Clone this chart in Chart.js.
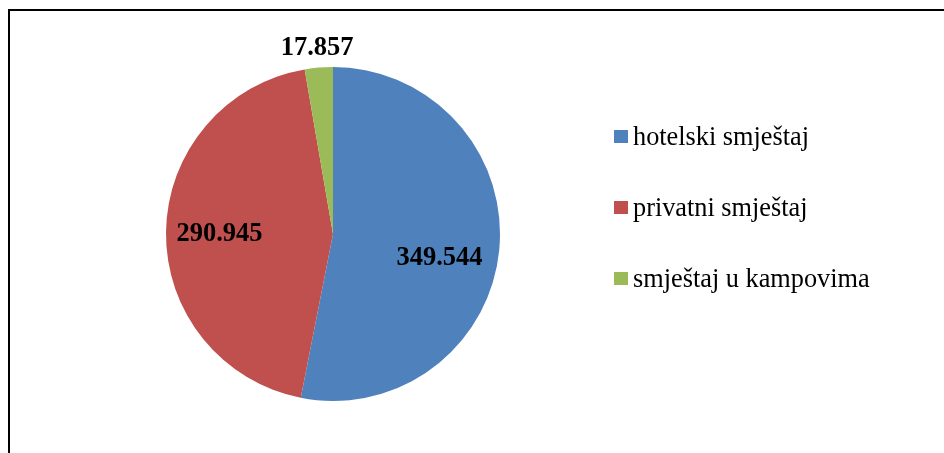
<!DOCTYPE html>
<html>
<head>
<meta charset="utf-8">
<script src="https://cdn.jsdelivr.net/npm/chart.js@4/dist/chart.umd.min.js"></script>
<style>
  html, body { margin: 0; padding: 0; background: #fff; overflow: hidden; width: 944px; height: 453px; }
  #frame { position: absolute; left: 8px; top: 9px; width: 1200px; height: 1000px; border-top: 2px solid #000; border-left: 2px solid #000; }
  #c { position: absolute; left: 0; top: 0; }
</style>
</head>
<body>
<div id="frame"></div>
<canvas id="c" width="944" height="453"></canvas>
<script>
const categories = ['hotelski smještaj', 'privatni smještaj', 'smještaj u kampovima'];
const values = [349544, 290945, 17857];
const colors = ['#4F81BD', '#C0504D', '#9BBB59'];

function fmt(v) {
  return String(v).replace(/\B(?=(\d{3})+(?!\d))/g, '.');
}

const SERIF = "'Times New Roman', 'Liberation Serif', serif";

const labelPlugin = {
  id: 'sliceLabels',
  afterDatasetsDraw(chart, args, opts) {
    const ctx = chart.ctx;
    const meta = chart.getDatasetMeta(0);
    ctx.save();
    ctx.font = 'bold 26.5px ' + SERIF;
    ctx.fillStyle = '#000';
    ctx.textAlign = 'center';
    ctx.textBaseline = 'middle';
    meta.data.forEach((arc, i) => {
      const p = arc.getProps(['x', 'y', 'startAngle', 'endAngle', 'outerRadius'], true);
      const mid = (p.startAngle + p.endAngle) / 2 + opts.angleShift[i] * Math.PI / 180;
      const r = p.outerRadius * opts.radius[i];
      ctx.fillText(fmt(chart.data.datasets[0].data[i]), p.x + Math.cos(mid) * r, p.y + Math.sin(mid) * r);
    });
    ctx.restore();
  }
};

const legendPlugin = {
  id: 'sideLegend',
  afterDraw(chart, args, opts) {
    const ctx = chart.ctx;
    const ds = chart.data.datasets[0];
    ctx.save();
    ctx.font = opts.fontSize + 'px ' + SERIF;
    ctx.textBaseline = 'alphabetic';
    ctx.textAlign = 'left';
    chart.data.labels.forEach((lab, i) => {
      const base = opts.y + i * opts.step;
      ctx.fillStyle = ds.backgroundColor[i];
      ctx.fillRect(opts.x, base - 15, 14, 13);
      ctx.fillStyle = '#000';
      ctx.fillText(lab, opts.x + 19, base);
    });
    ctx.restore();
  }
};

new Chart(document.getElementById('c'), {
  type: 'pie',
  data: {
    labels: categories,
    datasets: [{
      data: values,
      backgroundColor: colors,
      borderWidth: 0,
      hoverOffset: 0
    }]
  },
  options: {
    responsive: false,
    animation: false,
    devicePixelRatio: 1,
    layout: { padding: { top: 67, bottom: 52, left: 166, right: 444 } },
    plugins: {
      legend: { display: false },
      tooltip: { enabled: false },
      sliceLabels: { radius: [0.654, 0.68, 1.116], angleShift: [7.3, -0.7, 0] },
      sideLegend: { x: 614, y: 145, step: 71, fontSize: 26.3 }
    }
  },
  plugins: [labelPlugin, legendPlugin]
});
</script>
</body>
</html>
